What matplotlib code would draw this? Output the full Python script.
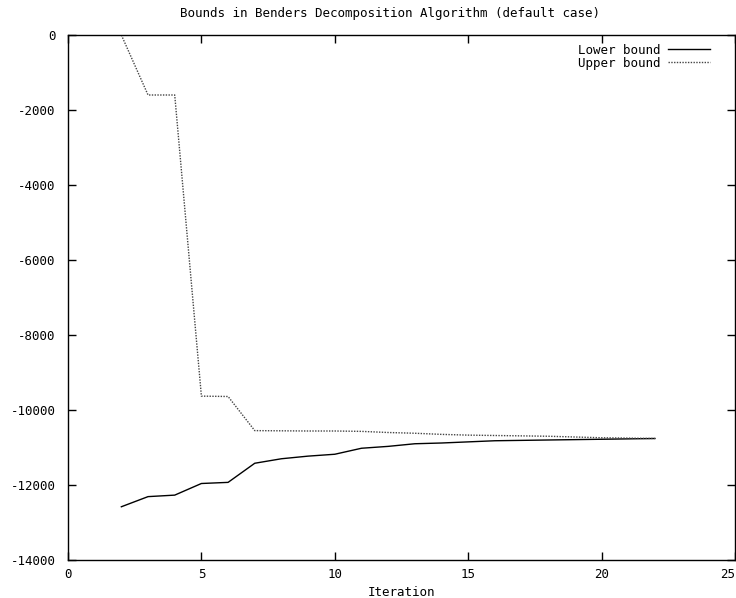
import matplotlib
matplotlib.use("Agg")
import matplotlib.pyplot as plt

# values
iterations = [2, 3, 4, 5, 6, 7, 8, 9, 10, 11, 12, 13, 14, 15, 16, 17, 18, 19, 20, 21, 22]
lower_bound = [-12580, -12310, -12270, -11960, -11930, -11420, -11300, -11230, -11180,
               -11020, -10970, -10900, -10880, -10850, -10820, -10810, -10800, -10790,
               -10780, -10770, -10760]
upper_bound = [0, -1600, -1600, -9630, -9640, -10550, -10555, -10560, -10560, -10570,
               -10600, -10620, -10650, -10670, -10680, -10690, -10700, -10720, -10740,
               -10750, -10760]

x_ticks = [0, 5, 10, 15, 20, 25]
y_ticks = [0, -2000, -4000, -6000, -8000, -10000, -12000, -14000]

plt.rcParams['font.family'] = ['DejaVu Sans Mono']
plt.rcParams['axes.unicode_minus'] = False
fs = 9

fig = plt.figure(figsize=(7.36, 5.98), dpi=100)
ax = fig.add_axes([68 / 736, 1 - 560 / 598, 667 / 736, 525 / 598])

ax.plot(iterations, lower_bound, color='black', linewidth=1.0, label='Lower bound')
ax.plot(iterations, upper_bound, color='#444444', linewidth=1.0, linestyle=(0, (1, 1)),
        label='Upper bound')

ax.set_xlim(0, 25)
ax.set_ylim(-14000, 0)
ax.set_xticks(x_ticks)
ax.set_yticks(y_ticks)
ax.tick_params(direction='in', length=6, width=1, top=True, right=True,
               labelsize=fs)
ax.tick_params(axis='x', pad=6)
ax.tick_params(axis='y', pad=9)
ax.get_xticklabels()[-1].set_ha('right')
for s in ax.spines.values():
    s.set_linewidth(1.0)

ax.set_xlabel('Iteration', fontsize=fs, labelpad=3)
fig.text((68 + 735) / 2 / 736 - 0.015, 1 - 14 / 598,
         'Bounds in Benders Decomposition Algorithm (default case)',
         ha='center', va='center', fontsize=fs)

ax.legend(loc='upper right', frameon=False, markerfirst=False, fontsize=fs,
          handlelength=3.3, handletextpad=0.6, labelspacing=0.0,
          borderaxespad=0.3, bbox_to_anchor=(0.975, 1.0))

fig.savefig('out.png', dpi=100)
